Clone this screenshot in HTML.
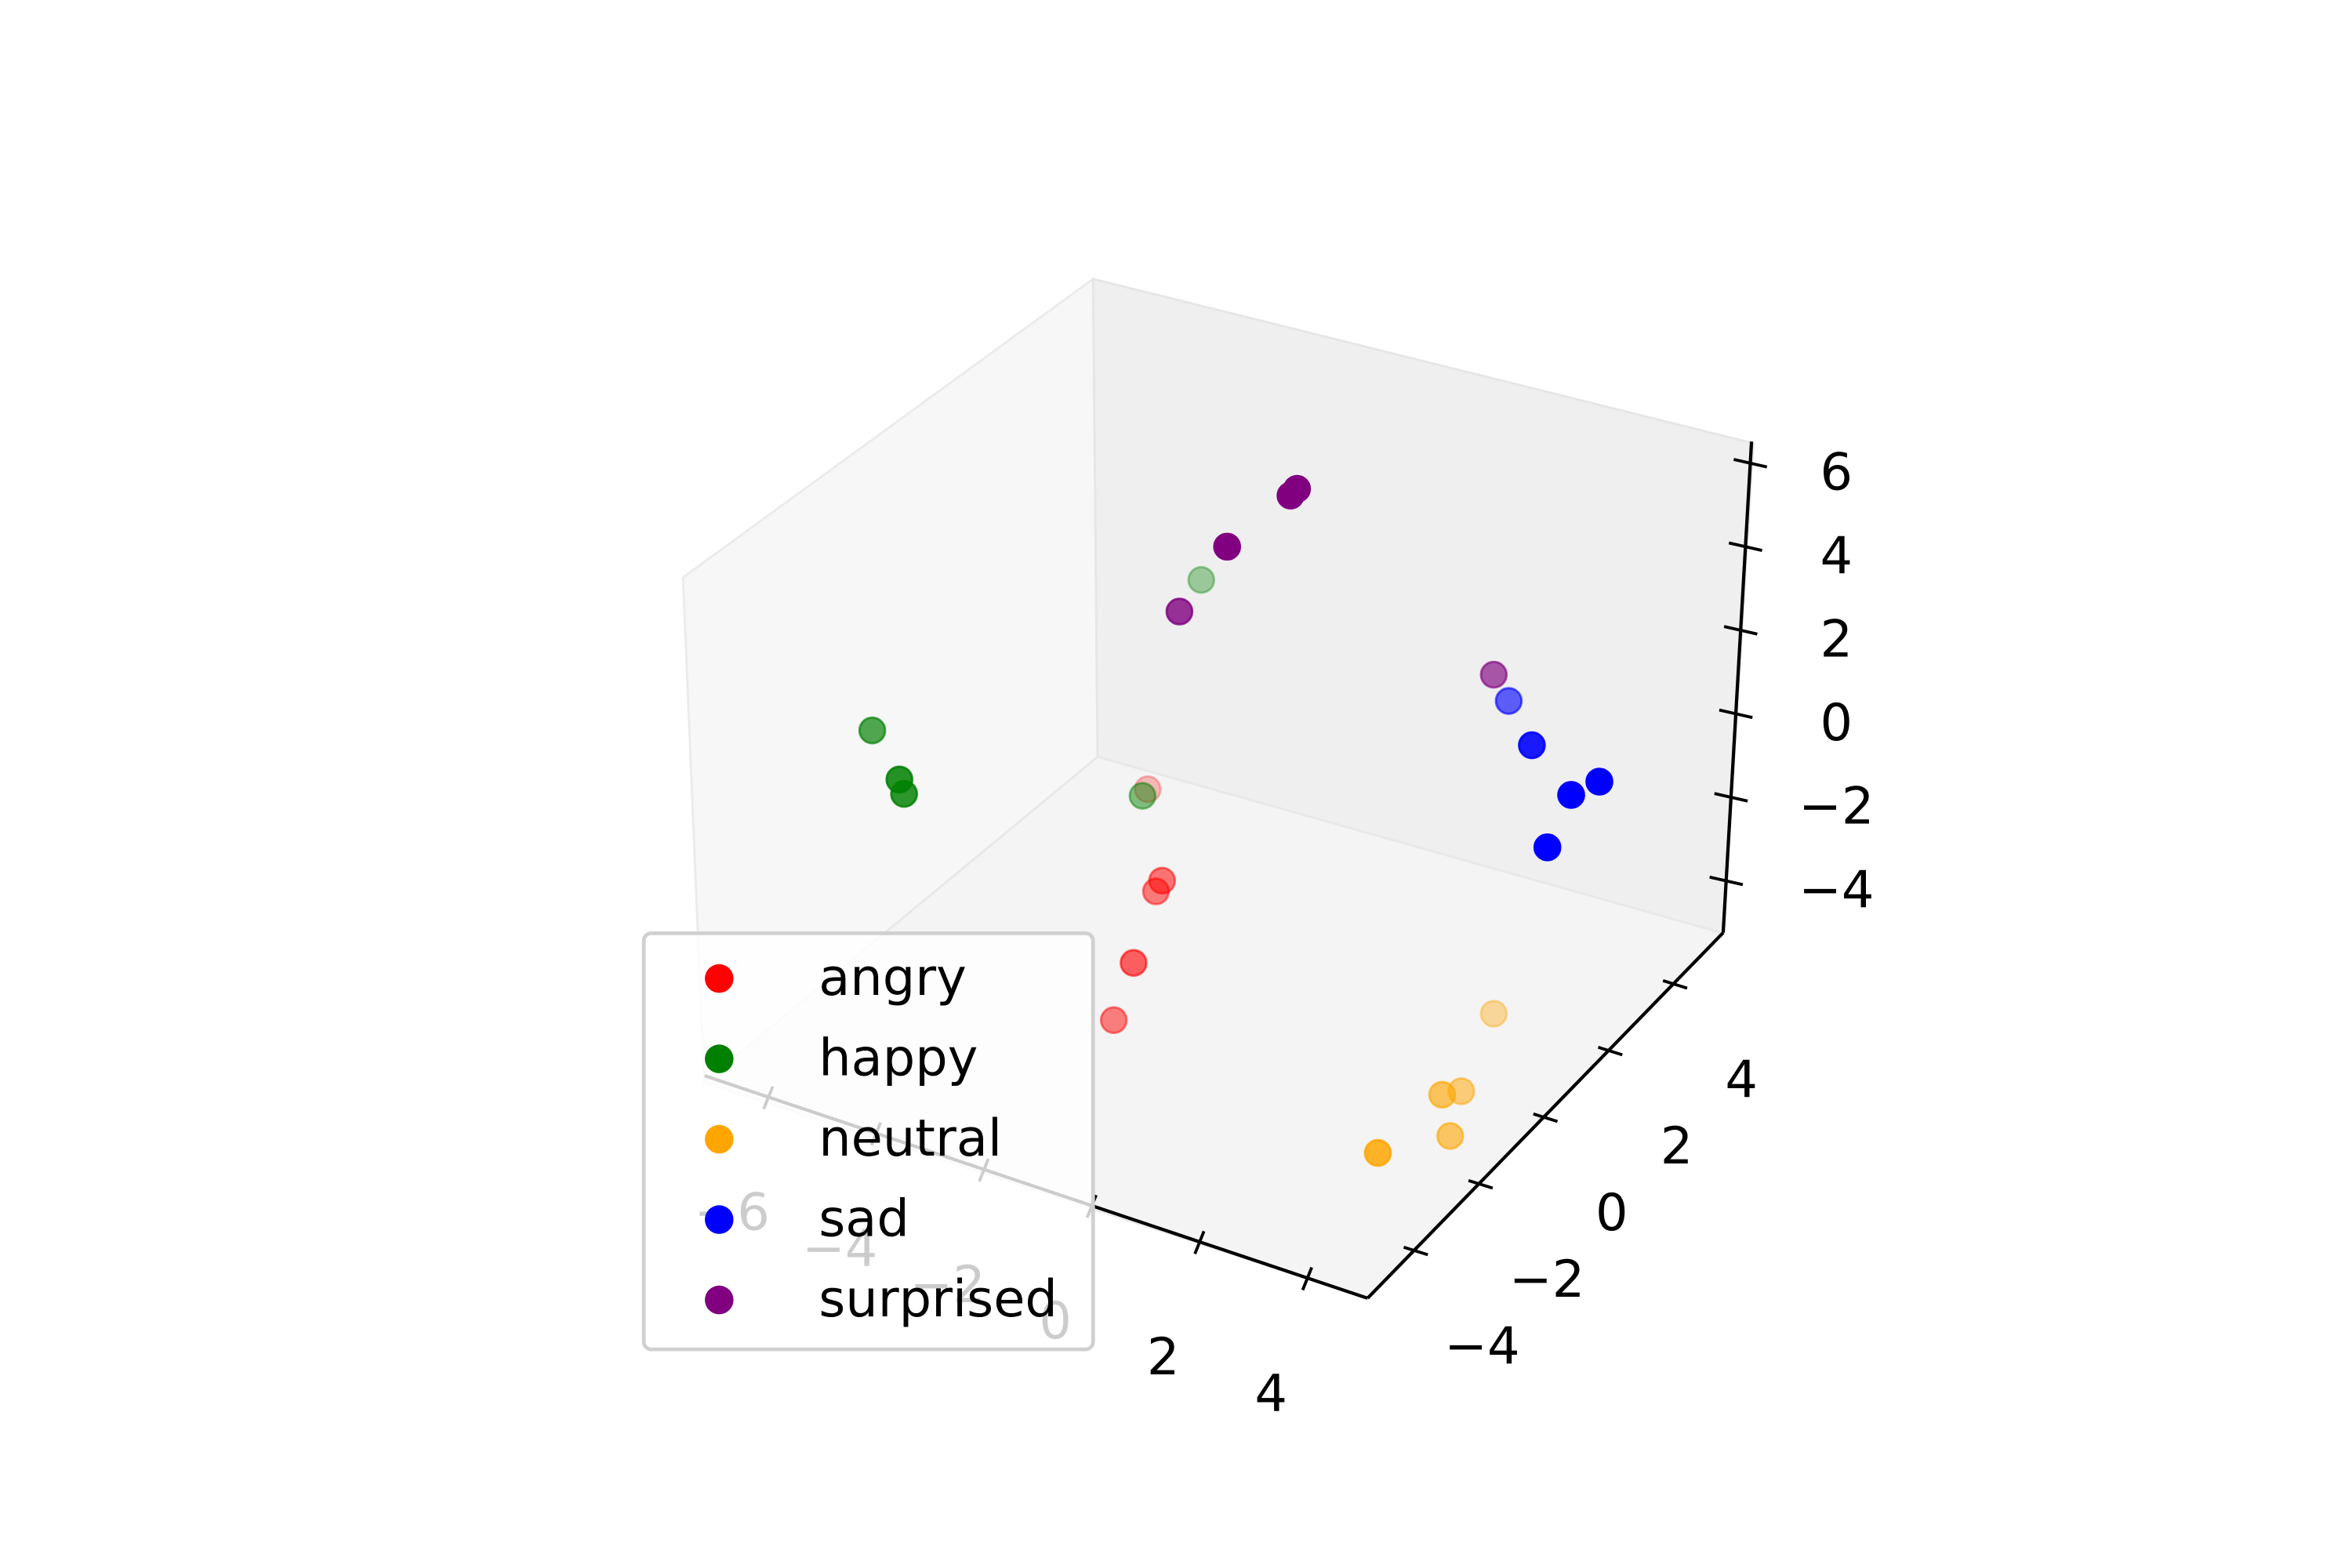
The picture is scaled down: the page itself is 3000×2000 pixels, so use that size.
<!DOCTYPE html>
<html><head><meta charset="utf-8"><title>3D scatter</title>
<style>html,body{margin:0;padding:0;background:#fff;}svg{display:block;}
text{font-family:"DejaVu Sans","Liberation Sans",sans-serif;}</style></head>
<body>
<svg id="chart" width="3000" height="2000" viewBox="0 0 1560 1040" xmlns="http://www.w3.org/2000/svg">
  <rect x="0" y="0" width="1560" height="1040" fill="#fff"/>
  <g id="panes">
    <polygon points="453,383 725,185 728,502 467,718" fill="#f7f7f7" stroke="#ebebeb" stroke-width="1.5"/>
    <polygon points="725,185 1163,294 1143,619 728,502" fill="#efefef" stroke="#e6e6e6" stroke-width="1.5"/>
    <polygon points="728,502 1143,619 907,861 467,718" fill="#f4f4f4" stroke="#e8e8e8" stroke-width="1.5"/>
  </g>
  <g id="axes"></g>
  <g id="points"></g>
  <g id="legend">
    <rect x="427" y="619" width="298" height="276" rx="5" fill="#fff" fill-opacity="0.8" stroke="#d0d0d0" stroke-width="2.5"/>
  </g>
</svg>
<script>
// ---- data ----
const categories = ["angry","happy","neutral","sad","surprised"];
const angryX = [-1.7,-1.4,-1.9,-1.8,-4.1];
const angryY = [-2,-2,-0.5,-0.5,3];
const angryZ = [-4.3,-2.8,-2.5,-2.2,-3.8];
const happyX = [-6.4,-5.3,-5.2,-2.8,-3.9];
const happyY = [-2,-3,-3,0.5,4];
const happyZ = [0.6,0.7,0.4,-1.4,0.5];
const neutralX = [3.8,3.8,3.7,4.1,3.1];
const neutralY = [-3,-1,-0.2,-1.2,1.8];
const neutralZ = [-4.3,-4.5,-5.1,-5.2,-5.1];
const sadX = [4.9,5.0,5.0,3.4,2.1];
const sadY = [0,0.5,1.4,2,3.5];
const sadZ = [1.1,2.0,1.6,1.3,0.6];
const surprisedX = [-2.6,-1.8,-0.7,-0.7,1.8];
const surprisedY = [1,1,1,1.2,3.5];
const surprisedZ = [2.7,4.6,6.3,6.3,1.1];
const xTicks = [-6,-4,-2,0,2,4];
const yTicks = [-4,-2,0,2,4];
const zTicks = [-4,-2,0,2,4,6];
const xTickLabels = ["\u22126","\u22124","\u22122","0","2","4"];
const yTickLabels = ["\u22124","\u22122","0","2","4"];
const zTickLabels = ["\u22124","\u22122","0","2","4","6"];

// ---- projection ----
const X_MIN=-7.18, X_MAX=5.12, Y_MIN=-5.44, Y_MAX=5.53, Z_MIN=-5.26, Z_MAX=6.5;
function proj(x,y,z){
  return [849.4 + 35.75*x + 21.5*y + 1.6*z, 533.7 + 12*x - 22.1*y - 27.7*z];
}
const NS="http://www.w3.org/2000/svg";
function mk(tag, attrs, parent){
  const e=document.createElementNS(NS,tag);
  for(const k in attrs) e.setAttribute(k, attrs[k]);
  parent.appendChild(e); return e;
}
const axes=document.getElementById('axes');
let p1=proj(X_MIN,Y_MIN,Z_MIN), p2=proj(X_MAX,Y_MIN,Z_MIN);
let l=mk('line',{x1:p1[0],y1:p1[1],x2:p2[0],y2:p2[1],stroke:'#000','stroke-width':2.2},axes);


p1=proj(X_MAX,Y_MIN,Z_MIN); p2=proj(X_MAX,Y_MAX,Z_MIN);
l=mk('line',{x1:p1[0],y1:p1[1],x2:p2[0],y2:p2[1],stroke:'#000','stroke-width':2.2},axes);


p1=proj(X_MAX,Y_MAX,Z_MIN); p2=proj(X_MAX,Y_MAX,Z_MAX);
l=mk('line',{x1:p1[0],y1:p1[1],x2:p2[0],y2:p2[1],stroke:'#000','stroke-width':2.2},axes);


xTicks.forEach((v,i)=>{
  const p=proj(v,Y_MIN,Z_MIN);
  const t=mk('line',{x1:p[0]-3,y1:p[1]+8,x2:p[0]+3,y2:p[1]-7,stroke:'#000','stroke-width':2},axes);
  
  
  const tx=mk('text',{x:p[0]-24,y:p[1]+88,'font-size':34,'text-anchor':'middle',fill:'#000'},axes);
  tx.textContent=xTickLabels[i];
  
  
});
yTicks.forEach((v,i)=>{
  const p=proj(X_MAX,v,Z_MIN);
  const t=mk('line',{x1:p[0]-7,y1:p[1]-2,x2:p[0]+9,y2:p[1]+3,stroke:'#000','stroke-width':2},axes);
  
  
  const tx=mk('text',{x:p[0]+45,y:p[1]+75,'font-size':34,'text-anchor':'middle',fill:'#000'},axes);
  tx.textContent=yTickLabels[i];
  
  
});
zTicks.forEach((v,i)=>{
  const p=proj(X_MAX,Y_MAX,v);
  const t=mk('line',{x1:p[0]-11,y1:p[1]-2,x2:p[0]+11,y2:p[1]+3,stroke:'#000','stroke-width':2},axes);
  
  
  const tx=mk('text',{x:1218,y:p[1]+18,'font-size':34,'text-anchor':'middle',fill:'#000'},axes);
  tx.textContent=zTickLabels[i];
  
  
});
const seriesX=[angryX,happyX,neutralX,sadX,surprisedX];
const seriesY=[angryY,happyY,neutralY,sadY,surprisedY];
const seriesZ=[angryZ,happyZ,neutralZ,sadZ,surprisedZ];
const colors=["#ff0000","#008000","#ffa500","#0000ff","#800080"];
function depth(x,y,z){return x - 1.8*y + 1.87*z;}
let dmin=Infinity,dmax=-Infinity;
seriesX.forEach((xs,s)=>xs.forEach((x,i)=>{const d=depth(x,seriesY[s][i],seriesZ[s][i]);dmin=Math.min(dmin,d);dmax=Math.max(dmax,d);}));
const pg=document.getElementById('points');
categories.forEach((cat,s)=>{
  const g=mk('g',{},pg);
  
  
  const idx=seriesX[s].map((_,i)=>i).sort((a,b)=>depth(seriesX[s][a],seriesY[s][a],seriesZ[s][a])-depth(seriesX[s][b],seriesY[s][b],seriesZ[s][b]));
  idx.forEach(i=>{
    const p=proj(seriesX[s][i],seriesY[s][i],seriesZ[s][i]);
    const d=depth(seriesX[s][i],seriesY[s][i],seriesZ[s][i]);
    const f=(d-dmin)/(dmax-dmin);
    const a=Math.min(1,0.25+0.95*f*f+0.2*f);
    const c=mk('circle',{cx:p[0],cy:p[1],r:8.5,fill:colors[s],'fill-opacity':a,stroke:colors[s],'stroke-opacity':a,'stroke-width':1.5},g);
    
    
  });
});
const lg=document.getElementById('legend');
categories.forEach((cat,s)=>{
  const y=649+53.3*s;
  const g=mk('g',{},lg);
  
  
  const c=mk('circle',{cx:477,cy:y,r:9.5,fill:colors[s]},g);
  
  
  const t=mk('text',{x:543,y:y+11,'font-size':34,fill:'#000'},g);
  t.textContent=cat;
  
  
});
</script>
</body></html>
